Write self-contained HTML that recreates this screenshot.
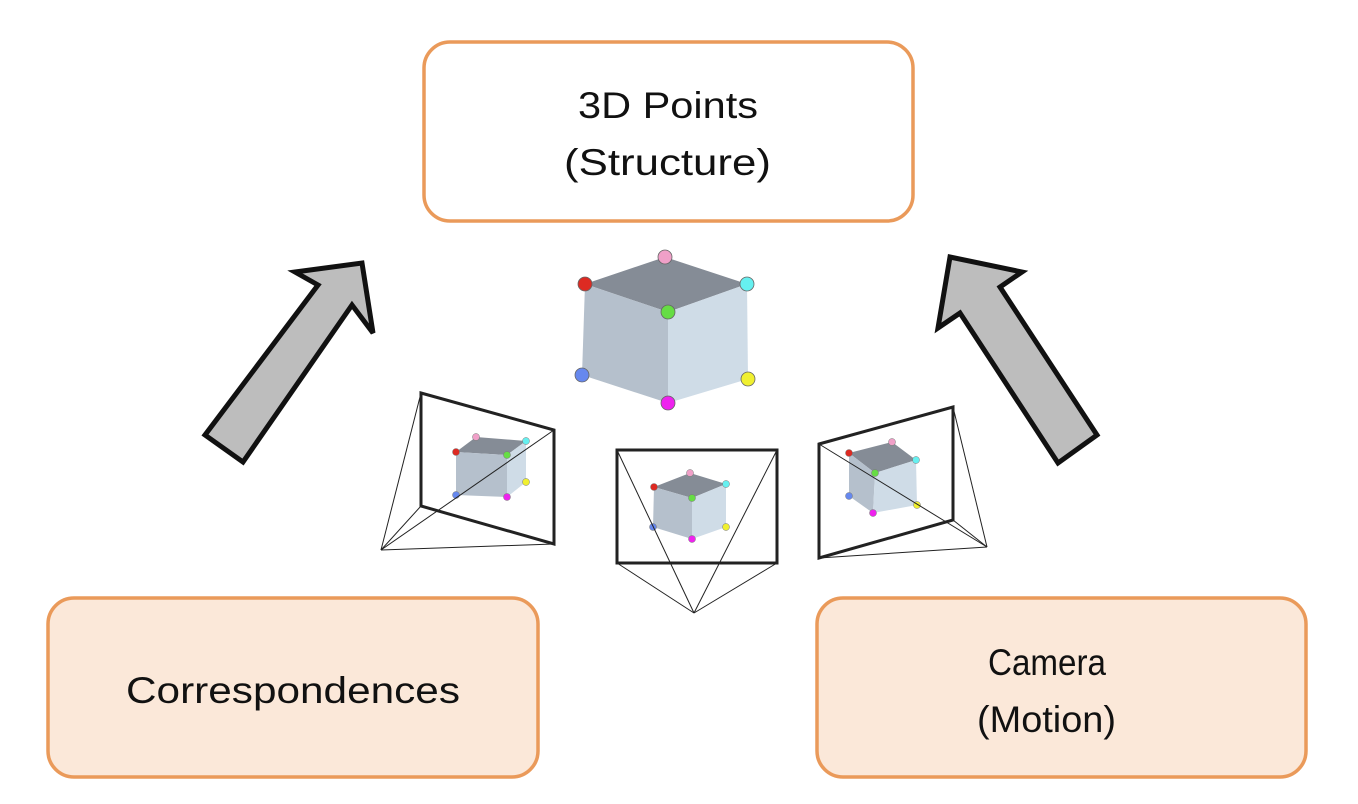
<!DOCTYPE html>
<html><head><meta charset="utf-8"><style>
html,body{margin:0;padding:0;background:#fff;}
svg{display:block;}
text{font-family:"Liberation Sans",sans-serif;fill:#111;font-size:37px;}
</style></head><body>
<svg width="1358" height="804" viewBox="0 0 1358 804" xmlns="http://www.w3.org/2000/svg">
<rect x="424" y="42" width="489" height="179" rx="26" fill="#fff" stroke="#ea9a5a" stroke-width="3.5"/>
<rect x="48" y="598" width="490" height="179" rx="26" fill="#fbe8d9" stroke="#ea9a5a" stroke-width="3.5"/>
<rect x="817" y="598" width="489" height="179" rx="26" fill="#fbe8d9" stroke="#ea9a5a" stroke-width="3.5"/>
<text x="578" y="118" textLength="180" lengthAdjust="spacingAndGlyphs">3D Points</text>
<text x="564" y="175" textLength="207" lengthAdjust="spacingAndGlyphs">(Structure)</text>
<text x="126" y="703" textLength="334" lengthAdjust="spacingAndGlyphs">Correspondences</text>
<text x="988" y="675" textLength="118" lengthAdjust="spacingAndGlyphs">Camera</text>
<text x="977" y="732" textLength="139" lengthAdjust="spacingAndGlyphs">(Motion)</text>
<polygon points="205,435 243,462 352,305 373,333 362,263 295,272 318,285" fill="#bdbdbd" stroke="#111" stroke-width="5" stroke-linejoin="miter"/>
<polygon points="1058,463 1097,435 1000,287 1022,272 950,257 938,328 960,313" fill="#bdbdbd" stroke="#111" stroke-width="5" stroke-linejoin="miter"/>
<g>
<polygon points="665,257 747,284 668,312 585,284" fill="#858c96"/>
<polygon points="585,284 668,312 668,403 582,375" fill="#b5c0cc"/>
<polygon points="668,312 747,284 748,379 668,403" fill="#cfdce7"/>
<g stroke="#666" stroke-width="0.8">
<circle cx="665" cy="257" r="7" fill="#f0a0c8"/>
<circle cx="585" cy="284" r="7" fill="#dd2a22"/>
<circle cx="747" cy="284" r="7" fill="#66f0f0"/>
<circle cx="668" cy="312" r="7" fill="#66dd44"/>
<circle cx="582" cy="375" r="7" fill="#6688ee"/>
<circle cx="748" cy="379" r="7" fill="#f0f030"/>
<circle cx="668" cy="403" r="7" fill="#ee22ee"/>
</g>
</g>
<g>
<polygon points="476,437 526,441 507,455 456,452" fill="#858c96"/>
<polygon points="456,452 507,455 507,497 456,495" fill="#b5c0cc"/>
<polygon points="507,455 526,441 526,482 507,497" fill="#cfdce7"/>
<polygon points="690,473 726,484 692,498 654,487" fill="#858c96"/>
<polygon points="654,487 692,498 692,539 653,527" fill="#b5c0cc"/>
<polygon points="692,498 726,484 726,527 692,539" fill="#cfdce7"/>
<polygon points="892,442 916,460 875,473 849,453" fill="#858c96"/>
<polygon points="849,453 875,473 873,513 849,496" fill="#b5c0cc"/>
<polygon points="875,473 916,460 917,505 873,513" fill="#cfdce7"/>
<g stroke="#777" stroke-width="0.5">
<circle cx="476" cy="437" r="3.5" fill="#f0a0c8"/><circle cx="456" cy="452" r="3.5" fill="#dd2a22"/><circle cx="526" cy="441" r="3.5" fill="#66f0f0"/><circle cx="507" cy="455" r="3.5" fill="#66dd44"/><circle cx="456" cy="495" r="3.5" fill="#6688ee"/><circle cx="526" cy="482" r="3.5" fill="#f0f030"/><circle cx="507" cy="497" r="3.5" fill="#ee22ee"/>
<circle cx="690" cy="473" r="3.5" fill="#f0a0c8"/><circle cx="654" cy="487" r="3.5" fill="#dd2a22"/><circle cx="726" cy="484" r="3.5" fill="#66f0f0"/><circle cx="692" cy="498" r="3.5" fill="#66dd44"/><circle cx="653" cy="527" r="3.5" fill="#6688ee"/><circle cx="726" cy="527" r="3.5" fill="#f0f030"/><circle cx="692" cy="539" r="3.5" fill="#ee22ee"/>
<circle cx="892" cy="442" r="3.5" fill="#f0a0c8"/><circle cx="849" cy="453" r="3.5" fill="#dd2a22"/><circle cx="916" cy="460" r="3.5" fill="#66f0f0"/><circle cx="875" cy="473" r="3.5" fill="#66dd44"/><circle cx="849" cy="496" r="3.5" fill="#6688ee"/><circle cx="917" cy="505" r="3.5" fill="#f0f030"/><circle cx="873" cy="513" r="3.5" fill="#ee22ee"/>
</g>
</g>
<g fill="none" stroke="#222">
<polygon points="421,393 554,430 554,544 421,506" stroke-width="3"/>
<g stroke-width="1"><line x1="381" y1="550" x2="421" y2="393"/><line x1="381" y1="550" x2="421" y2="506"/><line x1="381" y1="550" x2="554" y2="544"/><line x1="381" y1="550" x2="554" y2="430"/></g>
<rect x="617" y="450" width="160" height="113" stroke-width="3"/>
<g stroke-width="1"><line x1="694" y1="613" x2="617" y2="450"/><line x1="694" y1="613" x2="777" y2="450"/><line x1="694" y1="613" x2="617" y2="563"/><line x1="694" y1="613" x2="777" y2="563"/></g>
<polygon points="819,444 953,407 953,520 819,558" stroke-width="3"/>
<g stroke-width="1"><line x1="987" y1="547" x2="953" y2="407"/><line x1="987" y1="547" x2="953" y2="520"/><line x1="987" y1="547" x2="819" y2="558"/><line x1="987" y1="547" x2="819" y2="444"/></g>
</g>
</svg>
</body></html>
